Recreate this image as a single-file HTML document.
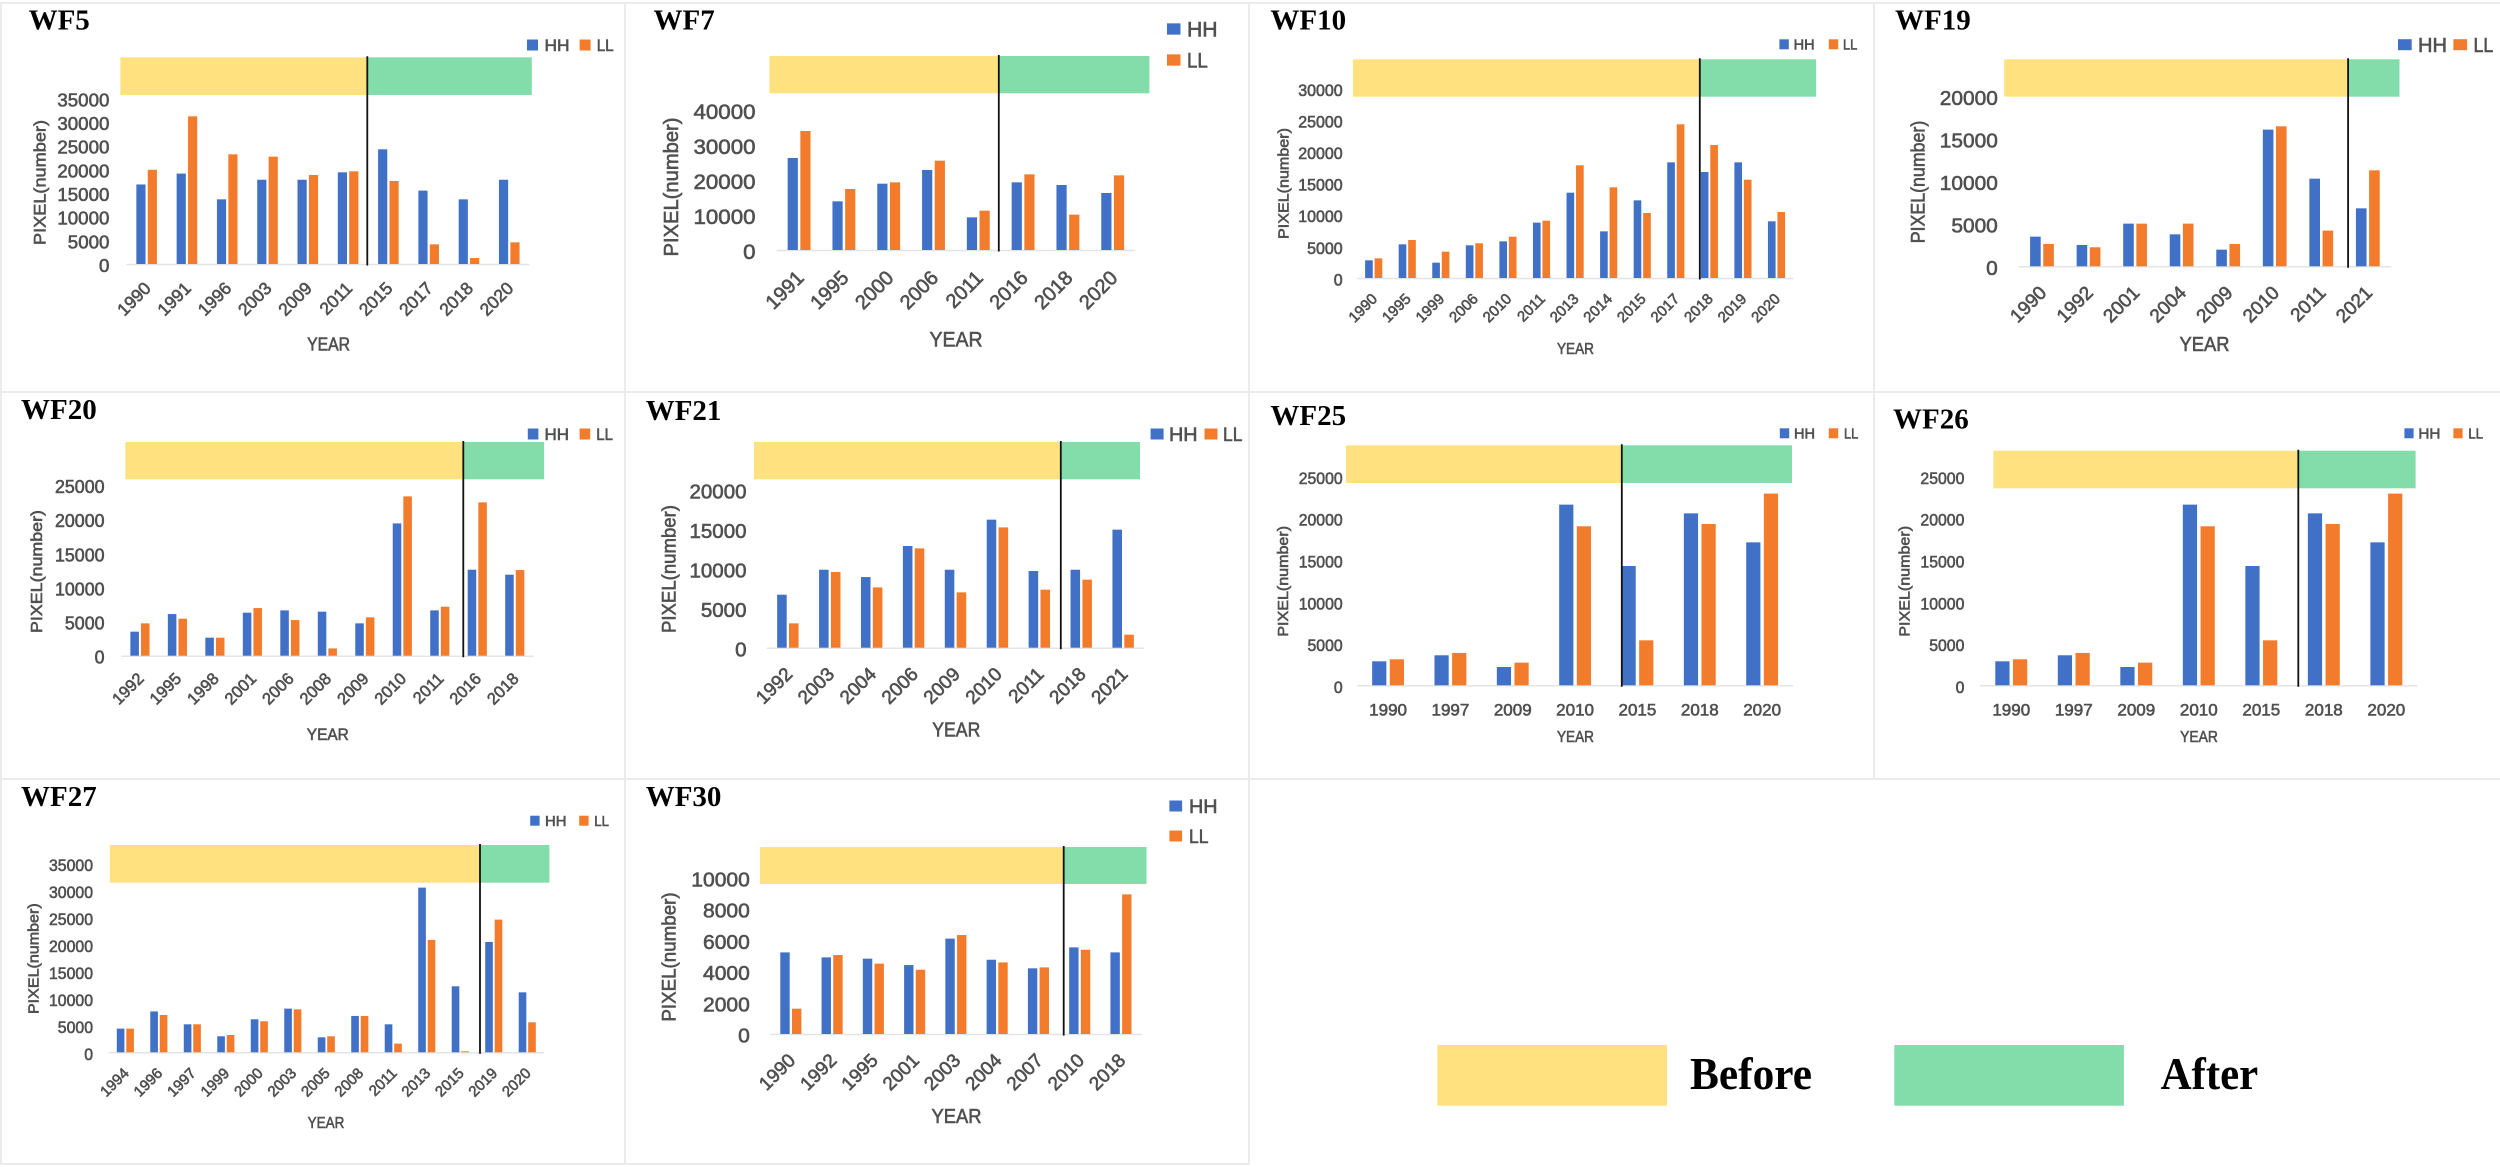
<!DOCTYPE html>
<html lang="en">
<head>
<meta charset="utf-8">
<title>HH and LL pixel counts by year for wind farms</title>
<style>
html,body{margin:0;padding:0;background:#fff;width:2500px;height:1167px;overflow:hidden}
svg{display:block}
.sans{font-family:"Liberation Sans",sans-serif;fill:#505050;stroke:#505050;stroke-width:.6px}
.serif{font-family:"Liberation Serif",serif;font-weight:bold;fill:#000}
</style>
</head>
<body>
<svg id="figure" xmlns="http://www.w3.org/2000/svg" width="2500" height="1167" viewBox="0 0 2500 1167">
  <rect x="0" y="0" width="2500" height="1167" fill="#ffffff"/>
  <g stroke="#ebebeb" stroke-width="2" fill="none">
    <line x1="0" y1="3" x2="2500" y2="3"/>
    <line x1="0" y1="392" x2="2500" y2="392"/>
    <line x1="0" y1="779" x2="2500" y2="779"/>
    <line x1="0" y1="1164" x2="1250" y2="1164"/>
    <line x1="1" y1="3" x2="1" y2="1164"/>
    <line x1="625" y1="3" x2="625" y2="1164"/>
    <line x1="1249" y1="3" x2="1249" y2="1164"/>
    <line x1="1874" y1="3" x2="1874" y2="779"/>
  </g>
  <g>
    <rect x="1437.3" y="1045" width="229.7" height="60.7" fill="#ffe17f"/>
    <text class="serif" x="1690" y="1089" font-size="45" textLength="122" lengthAdjust="spacingAndGlyphs">Before</text>
    <rect x="1894.3" y="1045" width="229.6" height="60.7" fill="#82ddaa"/>
    <text class="serif" x="2160.6" y="1089" font-size="45" textLength="97.6" lengthAdjust="spacingAndGlyphs">After</text>
  </g>
</svg>
<script>
// Chart data: categories, series values and tick labels
const wf5Years = ['1990','1991','1996','2003','2009','2011','2015','2017','2018','2020'];
const wf5HH = [16800,19100,13660,17800,17800,19370,24230,15500,13660,17800];
const wf5LL = [19900,31200,23170,22680,18800,19580,17540,4150,1270,4580];
const wf5Ticks = [0,5000,10000,15000,20000,25000,30000,35000];

const wf7Years = ['1991','1995','2000','2006','2011','2016','2018','2020'];
const wf7HH = [26286,13900,18950,22860,9330,19330,18570,16290];
const wf7LL = [34000,17430,19330,25520,11240,21620,10100,21330];
const wf7Ticks = [0,10000,20000,30000,40000];

const wf10Years = ['1990','1995','1999','2006','2010','2011','2013','2014','2015','2017','2018','2019','2020'];
const wf10HH = [2800,5330,2430,5170,5800,8760,13500,7380,12290,18300,16770,18300,8970];
const wf10LL = [3110,6010,4170,5490,6540,9070,17830,14350,10290,24320,21050,15560,10440];
const wf10Ticks = [0,5000,10000,15000,20000,25000,30000];

const wf19Years = ['1990','1992','2001','2004','2009','2010','2011','2021'];
const wf19HH = [3490,2510,5020,3760,1960,16080,10310,6820];
const wf19LL = [2630,2240,5020,5020,2630,16470,4200,11290];
const wf19Ticks = [0,5000,10000,15000,20000];

const wf20Years = ['1992','1995','1998','2001','2006','2008','2009','2010','2011','2016','2018'];
const wf20HH = [3520,6100,2640,6300,6640,6450,4740,19380,6640,12600,11870];
const wf20LL = [4740,5420,2640,6980,5220,1070,5620,23340,7180,22460,12550];
const wf20Ticks = [0,5000,10000,15000,20000,25000];

const wf21Years = ['1992','2003','2004','2006','2009','2010','2011','2018','2021'];
const wf21HH = [6720,9890,8960,12900,9890,16240,9730,9890,14970];
const wf21LL = [3090,9600,7650,12600,7020,15260,7360,8630,1650];
const wf21Ticks = [0,5000,10000,15000,20000];

const wf25Years = ['1990','1997','2009','2010','2015','2018','2020'];
const wf25HH = [2870,3590,2190,21610,14270,20570,17100];
const wf25LL = [3110,3870,2710,19020,5380,19300,22930];
const wf25Ticks = [0,5000,10000,15000,20000,25000];

const wf26Years = ['1990','1997','2009','2010','2015','2018','2020'];
const wf26HH = [2870,3590,2190,21610,14270,20570,17100];
const wf26LL = [3110,3870,2710,19020,5380,19300,22930];
const wf26Ticks = [0,5000,10000,15000,20000,25000];

const wf27Years = ['1994','1996','1997','1999','2000','2003','2005','2008','2011','2013','2015','2019','2020'];
const wf27HH = [4390,7580,5190,2970,6120,8100,2780,6740,5190,30530,12240,20460,11120];
const wf27LL = [4390,6920,5190,3210,5750,7970,2970,6740,1610,20830,190,24600,5560];
const wf27Ticks = [0,5000,10000,15000,20000,25000,30000,35000];

const wf30Years = ['1990','1992','1995','2001','2003','2004','2007','2010','2018'];
const wf30HH = [5220,4900,4820,4410,6100,4750,4200,5540,5220];
const wf30LL = [1620,5050,4500,4110,6330,4580,4260,5390,8930];
const wf30Ticks = [0,2000,4000,6000,8000,10000];

// Panel layout (geometry and type sizes, separate from the data)
const panels = [
  {id:'wf5',title:'WF5',years:wf5Years,hh:wf5HH,ll:wf5LL,ticks:wf5Ticks,titleX:28.6,titleY:29.3,
   axL:126.5,axR:529.4,base:264,tickPx:23.67,bandL:120.4,split:367.3,bandR:531.8,bandT:57.3,bandB:95,
   tickR:109.4,tickFs:18,tickW:10.4,rot:true,xFs:17.5,yT:{x:40,y:182.5,len:125,fs:17},xT:{x:328.6,y:344,len:43,fs:18},
   leg:{x1:527,y1:45,t1:544.5,x2:579.6,y2:45,t2:596.7,w:11,h:11,fs:17,hw:25}},
  {id:'wf7',title:'WF7',years:wf7Years,hh:wf7HH,ll:wf7LL,ticks:wf7Ticks,titleX:653.5,titleY:29.3,
   axL:776.7,axR:1135.1,base:250,tickPx:35,bandL:769.4,split:998.8,bandR:1149.4,bandT:56,bandB:93.3,
   tickR:755.5,tickFs:21,tickW:12.4,rot:true,xFs:20,yT:{x:671.8,y:187,len:139,fs:20},xT:{x:956,y:339,len:53,fs:21},
   leg:{x1:1167,y1:29,t1:1187,x2:1167,y2:60,t2:1187,w:13.5,h:11.3,fs:21,hw:30.6}},
  {id:'wf10',title:'WF10',years:wf10Years,hh:wf10HH,ll:wf10LL,ticks:wf10Ticks,titleX:1270.4,titleY:29.3,
   axL:1356.9,axR:1793.3,base:278,tickPx:31.6,bandL:1352.9,split:1699.8,bandR:1816.1,bandT:59.3,bandB:96.7,
   tickR:1342.7,tickFs:16.5,tickW:8.9,rot:true,xFs:15,yT:{x:1283.9,y:183.5,len:111,fs:15},xT:{x:1575.5,y:348,len:37,fs:16},
   leg:{x1:1779.4,y1:44.3,t1:1793.7,x2:1828.8,y2:44.3,t2:1843,w:9.4,h:10,fs:14.5,hw:21}},
  {id:'wf19',title:'WF19',years:wf19Years,hh:wf19HH,ll:wf19LL,ticks:wf19Ticks,titleX:1895,titleY:29.3,
   axL:2018.7,axR:2391.1,base:266.3,tickPx:42.5,bandL:2004.2,split:2348.1,bandR:2399.5,bandT:59.3,bandB:96.7,
   tickR:1997.8,tickFs:20,tickW:11.6,rot:true,xFs:19,yT:{x:1919,y:182,len:122.6,fs:19},xT:{x:2204.5,y:344,len:50,fs:20},
   leg:{x1:2398,y1:44.7,t1:2418,x2:2453.4,y2:44.7,t2:2473.5,w:13.7,h:11,fs:20,hw:29}},
  {id:'wf20',title:'WF20',years:wf20Years,hh:wf20HH,ll:wf20LL,ticks:wf20Ticks,titleX:21,titleY:419,
   axL:121.2,axR:533.5,base:655.7,tickPx:34.13,bandL:125.3,split:463.3,bandR:544.1,bandT:442,bandB:479.3,
   tickR:104.5,tickFs:18,tickW:9.9,rot:true,xFs:16.5,yT:{x:37.5,y:571.5,len:123,fs:16},xT:{x:327.8,y:734,len:42,fs:17},
   leg:{x1:527.8,y1:434,t1:544.5,x2:579.6,y2:434,t2:596.3,w:10.6,h:11,fs:16.5,hw:24.5}},
  {id:'wf21',title:'WF21',years:wf21Years,hh:wf21HH,ll:wf21LL,ticks:wf21Ticks,titleX:645.7,titleY:420,
   axL:766.9,axR:1144.1,base:647.7,tickPx:39.42,bandL:753.9,split:1060.8,bandR:1140,bandT:442,bandB:479.3,
   tickR:746.5,tickFs:20,tickW:11.4,rot:true,xFs:19,yT:{x:669.8,y:569,len:128,fs:19},xT:{x:956.3,y:729.3,len:48,fs:20},
   leg:{x1:1150.6,y1:434,t1:1169,x2:1204.5,y2:434,t2:1223,w:13,h:11,fs:19.5,hw:28.6}},
  {id:'wf25',title:'WF25',years:wf25Years,hh:wf25HH,ll:wf25LL,ticks:wf25Ticks,titleX:1270.4,titleY:425,
   axL:1356.9,axR:1793.3,base:685.3,tickPx:41.8,bandL:1345.9,split:1621.8,bandR:1792,bandT:445.3,bandB:483,
   tickR:1342.7,tickFs:17,tickW:8.8,rot:false,xFs:17,yT:{x:1283.5,y:581.3,len:110.7,fs:15},xT:{x:1575.5,y:736,len:37,fs:16},
   leg:{x1:1779.8,y1:433.3,t1:1794,x2:1828.8,y2:433.3,t2:1844,w:9.4,h:10,fs:14.5,hw:21}},
  {id:'wf26',title:'WF26',years:wf26Years,hh:wf26HH,ll:wf26LL,ticks:wf26Ticks,titleX:1893,titleY:428.3,
   axL:1980,axR:2417.6,base:685.3,tickPx:41.8,bandL:1993.3,split:2298.3,bandR:2415.6,bandT:450.7,bandB:488.3,
   tickR:1964.4,tickFs:17,tickW:8.8,rot:false,xFs:17,yT:{x:1905,y:581.3,len:110.7,fs:15},xT:{x:2199,y:736,len:37.8,fs:16},
   leg:{x1:2404.4,y1:433.3,t1:2418.4,x2:2453.4,y2:433.3,t2:2468.2,w:9.2,h:10,fs:15,hw:22}},
  {id:'wf27',title:'WF27',years:wf27Years,hh:wf27HH,ll:wf27LL,ticks:wf27Ticks,titleX:21,titleY:806,
   axL:108.6,axR:544,base:1052.3,tickPx:26.97,bandL:109.8,split:480,bandR:549.4,bandT:845,bandB:882.7,
   tickR:93,tickFs:17,tickW:8.8,rot:true,xFs:15,yT:{x:33.9,y:958.7,len:110.7,fs:15},xT:{x:326,y:1122,len:36.7,fs:16},
   leg:{x1:530.2,y1:820.7,t1:545,x2:579.2,y2:820.7,t2:594.3,w:9.4,h:10,fs:14.5,hw:21.5}},
  {id:'wf30',title:'WF30',years:wf30Years,hh:wf30HH,ll:wf30LL,ticks:wf30Ticks,titleX:645.7,titleY:806,
   axL:770.2,axR:1141.6,base:1034,tickPx:31.27,bandL:760,split:1063.7,bandR:1146.5,bandT:847,bandB:884,
   tickR:749.8,tickFs:20,tickW:11.7,rot:true,xFs:19,yT:{x:669.8,y:957,len:129.3,fs:19},xT:{x:956.5,y:1116,len:50,fs:20},
   leg:{x1:1169.4,y1:806,t1:1189,x2:1169.4,y2:836,t2:1189,w:12.7,h:11,fs:19.5,hw:28.6}}
];

const NS = 'http://www.w3.org/2000/svg';
const COLOR_HH = '#4171c7', COLOR_LL = '#f37c2c', COLOR_BEFORE = '#ffe17f', COLOR_AFTER = '#82ddaa', COLOR_AXIS = '#e4e4e4';
const BAR_RATIO = 0.228, BAR_GAP = 0.055;
const figure = document.getElementById('figure');

function mk(tag, attrs, parent, text) {
  const el = document.createElementNS(NS, tag);
  for (const k in attrs) el.setAttribute(k, attrs[k]);
  if (text !== undefined) el.textContent = text;
  parent.appendChild(el);
  return el;
}

function drawPanel(p) {
  const g = mk('g', {}, figure);
  
  

  const step = p.ticks[1] - p.ticks[0];
  const yScale = v => p.base - (v / step) * p.tickPx;
  const band = (p.axR - p.axL) / p.years.length;
  const xCenter = i => p.axL + band * (i + 0.5);
  const barW = band * BAR_RATIO, gap = band * BAR_GAP;

  const title = mk('text', {class:'serif', x:p.titleX, y:p.titleY, 'font-size':29}, g, p.title);
  
  

  const before = mk('rect', {x:p.bandL, y:p.bandT, width:p.split - p.bandL, height:p.bandB - p.bandT, fill:COLOR_BEFORE}, g);
  
  

  const after = mk('rect', {x:p.split, y:p.bandT, width:p.bandR - p.split, height:p.bandB - p.bandT, fill:COLOR_AFTER}, g);
  
  

  const axis = mk('line', {x1:p.axL, x2:p.axR, y1:p.base + 0.5, y2:p.base + 0.5, stroke:COLOR_AXIS, 'stroke-width':1.5}, g);
  
  

  p.ticks.forEach(t => {
    const s = String(t);
    const w = s.length * p.tickW;
    const label = mk('text', {class:'sans', x:p.tickR - w, y:yScale(t) + 1.5 + p.tickFs * 0.36, 'font-size':p.tickFs,
      textLength:w, lengthAdjust:'spacingAndGlyphs'}, g, s);
    
    
  });

  p.years.forEach((yr, i) => {
    const c = xCenter(i);
    const hhY = yScale(p.hh[i]);
    const hhBar = mk('rect', {x:c - gap / 2 - barW, y:hhY, width:barW, height:p.base - hhY, fill:COLOR_HH}, g);
    
    

    const llY = yScale(p.ll[i]);
    const llBar = mk('rect', {x:c + gap / 2, y:llY, width:barW, height:p.base - llY, fill:COLOR_LL}, g);
    
    

    let label;
    if (p.rot) {
      const ax = c + p.xFs * 0.3, ay = p.base + p.xFs * 1.45;
      label = mk('text', {class:'sans', x:ax, y:ay, 'font-size':p.xFs, 'text-anchor':'end',
        transform:'rotate(-45 ' + ax + ' ' + ay + ')'}, g, yr);
    } else {
      label = mk('text', {class:'sans', x:c, y:p.base + 24 + p.xFs * 0.36, 'font-size':p.xFs, 'text-anchor':'middle'}, g, yr);
    }
    
    
  });

  const divider = mk('line', {x1:p.split, x2:p.split, y1:p.bandT - 1, y2:p.base + 1.5, stroke:'#111', 'stroke-width':1.8}, g);
  
  

  const yTitle = mk('text', {class:'sans', x:p.yT.x, y:p.yT.y, 'font-size':p.yT.fs, 'text-anchor':'middle', 'dominant-baseline':'central',
    textLength:p.yT.len, lengthAdjust:'spacingAndGlyphs', transform:'rotate(-90 ' + p.yT.x + ' ' + p.yT.y + ')'}, g, 'PIXEL(number)');
  
  

  const xTitle = mk('text', {class:'sans', x:p.xT.x - p.xT.len / 2, y:p.xT.y + p.xT.fs * 0.36, 'font-size':p.xT.fs,
    textLength:p.xT.len, lengthAdjust:'spacingAndGlyphs'}, g, 'YEAR');
  
  

  const L = p.leg;
  const s1 = mk('rect', {x:L.x1, y:L.y1 - L.h / 2, width:L.w, height:L.h, fill:COLOR_HH}, g);
  
  

  const t1 = mk('text', {class:'sans', x:L.t1, y:L.y1 + L.fs * 0.36, 'font-size':L.fs, textLength:L.hw, lengthAdjust:'spacingAndGlyphs'}, g, 'HH');
  
  

  const s2 = mk('rect', {x:L.x2, y:L.y2 - L.h / 2, width:L.w, height:L.h, fill:COLOR_LL}, g);
  
  

  const t2 = mk('text', {class:'sans', x:L.t2, y:L.y2 + L.fs * 0.36, 'font-size':L.fs, textLength:L.hw * 0.68, lengthAdjust:'spacingAndGlyphs'}, g, 'LL');
  
  
}

panels.forEach(drawPanel);
</script>
</body>
</html>
